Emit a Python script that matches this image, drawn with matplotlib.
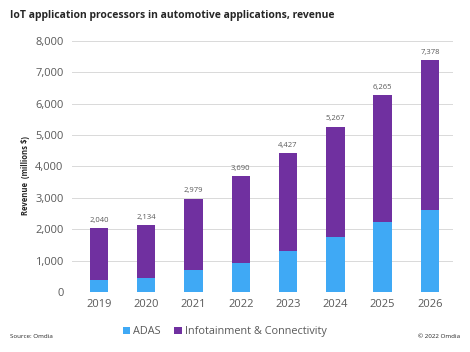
import matplotlib
matplotlib.use("Agg")
import matplotlib.pyplot as plt
from matplotlib.ticker import FuncFormatter

years = ["2019", "2020", "2021", "2022", "2023", "2024", "2025", "2026"]
totals = [2040, 2134, 2979, 3690, 4427, 5267, 6265, 7378]
adas = [385, 460, 715, 940, 1320, 1745, 2245, 2610]
infotainment = [t - a for t, a in zip(totals, adas)]

plt.rcParams['font.family'] = ['Open Sans', 'DejaVu Sans']

fig = plt.figure(figsize=(4.7, 3.52), dpi=100)
ax = fig.add_axes([0.153, 0.170, 0.811, 0.714])

x = range(len(years))
blue = "#3FA9F5"
purple = "#7030A0"
ax.bar(x, adas, width=0.39, color=blue, label="ADAS", zorder=3)
ax.bar(x, infotainment, bottom=adas, width=0.39, color=purple,
       label="Infotainment & Connectivity", zorder=3)

for i, t in enumerate(totals):
    ax.text(i, t + 140, f"{t:,}", ha="center", va="bottom", fontsize=5.5, color="#595959")

ax.set_ylim(0, 8000)
ax.set_xlim(-0.57, 7.49)
ax.set_yticks(range(0, 8001, 1000))
ax.yaxis.set_major_formatter(FuncFormatter(lambda v, p: f"{int(v):,}"))
ax.set_xticks(list(x))
ax.set_xticklabels(years)
ax.tick_params(axis="both", length=0, labelsize=8, colors="#595959")
ax.tick_params(axis="y", pad=6)
ax.tick_params(axis="x", pad=5)
ax.grid(axis="y", color="#D9D9D9", linewidth=0.7, zorder=0)
for s in ax.spines.values():
    s.set_visible(False)

fig.text(0.055, 0.5, "Revenue  (millions $)", rotation=90, ha="center", va="center",
         fontsize=5.5, fontweight="bold", color="#262626")

fig.text(0.021, 0.955, "IoT application processors in automotive applications, revenue",
         fontsize=7.5, fontweight="bold", color="#262626", ha="left", va="center")

leg = fig.legend(loc="center", bbox_to_anchor=(0.478, 0.058), ncol=2, frameon=False,
                 fontsize=7.8, handlelength=0.7, handleheight=0.7, handletextpad=0.3,
                 columnspacing=1.2)
for t in leg.get_texts():
    t.set_color("#595959")

fig.text(0.021, 0.043, "Source: Omdia", fontsize=4.5, color="#262626", ha="left", va="center")
fig.text(0.98, 0.043, "© 2022 Omdia", fontsize=4.5, color="#262626", ha="right", va="center")

fig.savefig("out.png", dpi=100)
